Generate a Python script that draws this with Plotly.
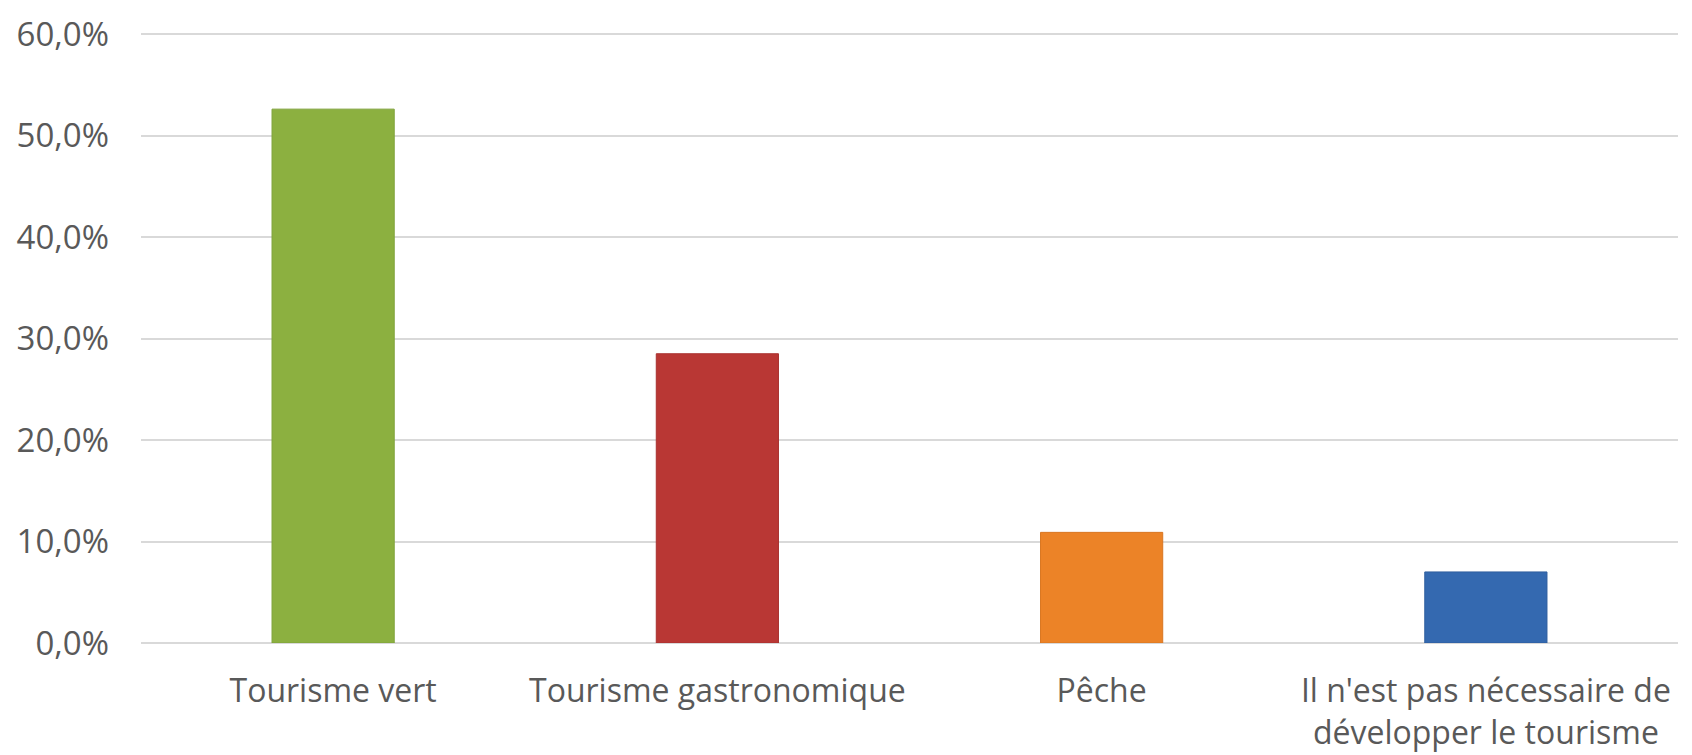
import plotly.graph_objects as go

categories = ["Tourisme vert", "Tourisme gastronomique", "Pêche",
              "Il n'est pas nécessaire de<br>développer le tourisme"]
values = [52.6, 28.5, 10.9, 7.0]
bar_colors = ["#8CB040", "#B93734", "#EC8327", "#3469B0"]
line_colors = ["#7FA23A", "#A93230", "#D97722", "#2F5E9E"]
tick_vals = [0, 10, 20, 30, 40, 50, 60]
tick_text = ["0,0%", "10,0%", "20,0%", "30,0%", "40,0%", "50,0%", "60,0%"]

fig = go.Figure(go.Bar(
    x=categories, y=values,
    marker=dict(color=bar_colors, line=dict(color=line_colors, width=1)),
    width=0.318,
))

xfont = dict(family="Open Sans", size=32, color="#595959")
yfont = dict(family="Open Sans", size=33, color="#595959")
fig.update_layout(
    width=1692, height=755,
    margin=dict(l=133, r=22, t=24, b=120),
    paper_bgcolor="white", plot_bgcolor="white",
    showlegend=False,
    font=xfont,
    xaxis=dict(showgrid=False, showline=False, ticks="", tickfont=xfont,
               ticklabelstandoff=26, automargin=False,
               ticklabeloverflow="allow"),
    yaxis=dict(range=[0, 60.2], tickvals=tick_vals, ticktext=tick_text,
               showgrid=True, gridcolor="#D9D9D9", gridwidth=1.5,
               zeroline=True, zerolinecolor="#D9D9D9", zerolinewidth=1.5,
               showline=False, ticks="", tickfont=yfont,
               ticklabelstandoff=31, automargin=False,
               ticklabeloverflow="allow"),
)

fig.write_html("out.html")
